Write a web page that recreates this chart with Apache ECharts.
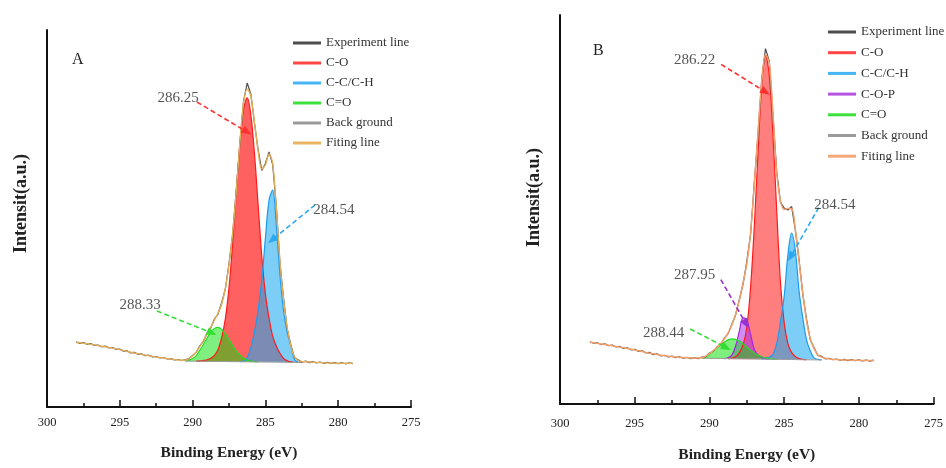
<!DOCTYPE html>
<html><head><meta charset="utf-8">
<script src="https://cdn.jsdelivr.net/npm/echarts@6/dist/echarts.min.js"></script>
<style>html,body{margin:0;padding:0;background:#fff}#c{width:946px;height:468px}</style>
</head><body><div id="c"></div>
<script>
// ---------- DATA ----------
const energyFull = [298,297.75,297.5,297.25,297,296.75,296.5,296.25,296,295.75,295.5,295.25,295,294.75,294.5,294.25,294,293.75,293.5,293.25,293,292.75,292.5,292.25,292,291.75,291.5,291.25,291,290.75,
 290.5,290.25,290,289.75,289.5,289.25,289,288.75,288.5,288.25,288,287.75,287.5,287.25,287,286.75,286.5,286.25,286,285.75,285.5,285.25,285,284.75,284.5,284.25,284,283.75,283.5,283.25,283,282.75,282.5,
 282.25,282,281.75,281.5,281.25,281,280.75,280.5,280.25,280,279.75,279.5,279.25,279];
const energyComp = [290.5,290.25,290,289.75,289.5,289.25,289,288.75,288.5,288.25,288,287.75,287.5,287.25,287,286.75,286.5,286.25,286,285.75,285.5,285.25,285,284.75,284.5,284.25,284,283.75,283.5,283.25,283,282.75,282.5];
const xTicks = [300,295,290,285,280,275];

// Panel A
const expA = [65.2,63.6,64.4,62.7,63.5,61.6,62.0,60.2,60.9,59.0,59.5,57.6,58.0,55.8,56.2,54.1,54.6,52.7,53.1,51.3,51.8,50.1,50.5,49.0,49.5,48.0,48.4,47.1,47.5,46.4,
 47.4,48.2,51.6,54.6,61.2,66.0,74.3,79.2,88.0,93.2,104.5,118.0,143.5,172.5,217.5,263.5,306,324,313,283.5,257.5,236.5,243.5,255,242.5,200.5,143.5,108.5,77.5,62,49.2,47.3,44.8,
 45.9,44.4,45.4,44.0,45.0,43.7,44.7,43.5,44.4,43.3,44.3,43.2,44.2,43.4];
const fitA = [64.5,64.2,63.8,63.3,62.8,62.1,61.4,60.8,60.2,59.6,58.9,58.2,57.4,56.5,55.5,54.7,54.0,53.3,52.6,51.9,51.2,50.6,50.0,49.5,49.0,48.5,48.0,47.5,47.1,46.8,
 47.0,48.5,51.0,55.0,60.5,66.5,73.5,80,87,94,103,119,142,174,216,265,304,318,311,285,256,238,242,253,244,199,145,107,79,61,50,46.5,45.5,
 45.2,45.0,44.8,44.6,44.4,44.2,44.1,44.0,43.9,43.8,43.8,43.7,43.7,43.7];
const bgA = [46.0,46.0,45.9,45.9,45.8,45.8,45.7,45.7,45.6,45.6,45.5,45.5,45.4,45.4,45.3,45.3,45.2,45.2,45.1,45.1,45.0,45.0,44.9,44.9,44.8,44.8,44.7,44.7,44.6,44.6,44.5,44.5,44.5];
const coA  = [0,0,0,0,0.3,0.8,1.5,3,6,12,24,43,74,118,169,218,253,264,247,208,157,106,68,44,26,16,9,4,1.5,0.5,0,0,0];
const ccA  = [0,0,0,0,0,0,0,0,0,0,0,0,0,0,0,0,0.5,4,14,30,52,82,124,162,172,136,87,51,30,16,3,0.5,0];
const c2oA = [0,0.8,2.5,5.5,11,17,23.5,29.5,33,34,32,27.6,22,16,10.5,6.4,3.6,1.8,0.8,0.3,0,0,0,0,0,0,0,0,0,0,0,0,0];
const peakLabelsA = ['286.25','284.54','288.33'];

// Panel B
const expB = [63.1,61.5,62.0,60.2,60.9,59.0,59.6,57.7,58.3,56.3,56.9,54.9,55.4,53.3,53.9,51.7,52.2,50.0,50.8,48.7,49.4,47.6,48.5,46.9,47.8,46.4,47.3,46.0,47.0,46.0,
 47.5,48.0,51.6,53.4,57.7,60.4,66.8,71.3,80.8,90.2,106,121.5,144.5,171.5,223.5,273.5,329,360,347.5,292.5,235.5,204.5,198.5,196.5,200,175.5,145.5,110.5,85.5,64.8,57.0,49.2,48.3,
 45.7,46.3,44.8,45.6,44.3,45.2,44.0,44.9,43.8,44.7,43.6,44.6,43.5,44.4];
const fitB = [62.5,62,61.4,60.8,60.2,59.6,59,58.3,57.6,56.9,56.2,55.5,54.8,54,53.2,52.3,51.5,50.8,50.1,49.4,48.8,48.3,47.9,47.5,47.2,47,46.8,46.6,46.5,46.5,
 47,48.5,51,54,57,61,66,72,80,91,105,123,142,173,222,275,327,354,346,294,234,206,197,198,198,177,144,112,84,66,56,50,47.5,
 46.3,45.7,45.3,45,44.8,44.6,44.5,44.4,44.3,44.2,44.1,44.1,44,44];
const bgB = [46.4,46.35,46.3,46.25,46.2,46.1,46.05,46.0,45.95,45.9,45.85,45.8,45.7,45.65,45.6,45.55,45.5,45.45,45.4,45.3,45.25,45.2,45.15,45.1,45.05,45.0,44.9,44.85,44.8,44.75,44.7,44.65,44.6];
const coB  = [0,0,0,0,0,0,0,0,0.5,2,6,14,32,72,134,209,277,308,288,227,151,78,37,16,7,3,1,0.3,0,0,0,0,0];
const ccB  = [0,0,0,0,0,0,0,0,0,0,0,0,0,0,0,0,0,1,2,5,16,38,64,106,128,110,69,42,20,9,2,0.5,0];
const copB = [0,0,0,0,0,0,0,0.7,3.6,12.6,28,41.5,40,25,10,4,2,0.5,0,0,0,0,0,0,0,0,0,0,0,0,0,0,0];
const c2oB = [0,1.2,4,7.5,10.5,13.7,16.7,19,20,19.6,17.9,15.2,12,8.9,6.1,3.9,2.3,1.3,0.6,0.2,0,0,0,0,0,0,0,0,0,0,0,0,0];
const peakLabelsB = ['286.22','284.54','287.95','288.44'];

const legendNamesA = ['Experiment line','C-O','C-C/C-H','C=O','Back ground','Fiting line'];
const legendNamesB = ['Experiment line','C-O','C-C/C-H','C-O-P','C=O','Back ground','Fiting line'];

// ---------- STYLE / BUILD ----------
const SERIF = "'Liberation Serif','Times New Roman',serif";
const COL = {
  exp:'#4d4d4d', bg:'#9a9a9a', fitA:'#e3ae5a', fitB:'#f4a06c',
  co:'#ff1a1a', cc:'#1e9bef', c2o:'#22dd22', cop:'#a526e0'
};
const xy = (xs, ys) => xs.map((x, i) => [x, ys[i]]);
// keep only the span where the component is non-zero (plus one edge point each side)
function onBg(bg, net) {
  const out = [];
  net.forEach((v, i) => {
    const near = v > 0 || (i > 0 && net[i - 1] > 0) || (i < net.length - 1 && net[i + 1] > 0);
    if (near) out.push([energyComp[i], +(bg[i] + v).toFixed(2)]);
  });
  return out;
}

function comp(gi, name, bg, net, line, fill, op, origin) {
  return { type:'line', name, xAxisIndex:gi, yAxisIndex:gi, data:onBg(bg, net), symbol:'none', smooth:0.35,
    lineStyle:{color:line, width:1.2}, itemStyle:{color:line},
    areaStyle:{color:fill, opacity:op, origin}, z:2, silent:true };
}
function plain(gi, name, xs, ys, color, width, smooth, z) {
  return { type:'line', name, xAxisIndex:gi, yAxisIndex:gi, data:xy(xs, ys), symbol:'none', smooth,
    lineStyle:{color, width}, itemStyle:{color}, z, silent:true };
}
function labels(gi, pos, texts, arrows) {
  return { type:'scatter', name:'_lbl'+gi, xAxisIndex:gi, yAxisIndex:gi, symbolSize:1, itemStyle:{color:'rgba(0,0,0,0)'},
    data: pos.map((p, i) => [p[0], p[1], texts[i]]), z:5, silent:true,
    label:{show:true, position:'inside', formatter:p => p.value[2], fontFamily:SERIF, fontSize:15, color:'#2a2a2a'},
    markLine:{ silent:true, animation:false, label:{show:false},
      data: arrows.map(a => [
        {coord:a.from, symbol:'none', symbolSize:0, lineStyle:{color:a.color, type:[5,3], width:1.6}, itemStyle:{color:a.color}},
        {coord:a.to, symbol:'triangle', symbolSize:[8,10], itemStyle:{color:a.color}, lineStyle:{color:a.color}}]) } };
}

const series = [
  comp(0,'C-O',bgA,coA,COL.co,'#ff0000',0.62,45.2),
  comp(0,'C-C/C-H',bgA,ccA,COL.cc,'#1eaaf0',0.58,45.0),
  comp(0,'C=O',bgA,c2oA,COL.c2o,'#00e000',0.5,45.6),
  plain(0,'Back ground',energyComp,bgA,COL.bg,1,false,3),
  plain(0,'Experiment line',energyFull,expA,COL.exp,1.2,false,3),
  plain(0,'Fiting line',energyFull,fitA,COL.fitA,1.4,0.3,4),
  labels(0, [[291.0,309],[280.29,197],[293.61,102]], peakLabelsA, [
    {from:[289.70,305], to:[286.26,275], color:'#ff3030'},
    {from:[281.59,202], to:[284.55,167], color:'#2aa8f2'},
    {from:[292.45,96],  to:[288.67,74],  color:'#33dd33'}]),

  comp(1,'C-O',bgB,coB,COL.co,'#ff0000',0.5,45.4),
  comp(1,'C-C/C-H',bgB,ccB,COL.cc,'#1eaaf0',0.58,45.1),
  comp(1,'C-O-P',bgB,copB,COL.cop,'#a020f0',0.5,45.8),
  comp(1,'C=O',bgB,c2oB,COL.c2o,'#00dd00',0.5,45.9),
  plain(1,'Back ground',energyComp,bgB,COL.bg,1,false,3),
  plain(1,'Experiment line',energyFull,expB,COL.exp,1.2,false,3),
  plain(1,'Fiting line',energyFull,fitB,COL.fitB,1.5,0.3,4),
  labels(1, [[291.0,348],[281.61,202],[291.0,131],[293.06,72]], peakLabelsB, [
    {from:[289.22,344], to:[286.24,316], color:'#ff3030'},
    {from:[282.69,199], to:[284.57,149], color:'#2aa8f2'},
    {from:[289.24,126], to:[287.55,81],  color:'#9b30d0'},
    {from:[291.29,76],  to:[288.87,57],  color:'#33dd33'}])
];

const legendColor = {'Experiment line':COL.exp,'C-O':'#ff4545','C-C/C-H':'#45b5f5','C=O':'#3ee03e','C-O-P':'#b555e0','Back ground':'#9a9a9a'};
function legend(names, left, top, gap, fit) {
  return { left, top, orient:'vertical', icon:'rect', itemWidth:28, itemHeight:3, itemGap:gap, padding:0,
    selectedMode:false, textStyle:{fontFamily:SERIF, fontSize:13, color:'#333', lineHeight:14},
    data: names.map(n => ({name:n, itemStyle:{color: n === 'Fiting line' ? fit : legendColor[n]}})) };
}
function xAxis(gi, margin, nameGap) {
  return { gridIndex:gi, type:'value', min:275, max:300, interval:5, inverse:true,
    axisLine:{show:true, onZero:false, lineStyle:{color:'#111', width:2}},
    axisTick:{show:true, inside:true, length:7, lineStyle:{color:'#111', width:1.5}},
    minorTick:{show:true, splitNumber:2, length:4, lineStyle:{color:'#111', width:1.5}},
    splitLine:{show:false}, minorSplitLine:{show:false},
    axisLabel:{color:'#222', fontFamily:SERIF, fontSize:12.5, margin, formatter:v => xTicks.includes(v) ? String(v) : ''},
    name:'Binding Energy (eV)', nameLocation:'middle', nameGap,
    nameTextStyle:{fontFamily:SERIF, fontWeight:'bold', fontSize:15.5, color:'#222'} };
}
function yAxis(gi, max, pad) {
  return { gridIndex:gi, type:'value', min:0, max,
    axisLine:{show:true, onZero:false, lineStyle:{color:'#111', width:2}},
    axisTick:{show:false}, axisLabel:{show:false}, splitLine:{show:false},
    name:'Intensit(a.u.)', nameLocation:'middle', nameGap:17, nameRotate:90,
    nameTextStyle:{fontFamily:SERIF, fontWeight:'bold', fontSize:18, color:'#222', padding:[0,0,0,pad]} };
}

const chart = echarts.init(document.getElementById('c'));
chart.setOption({
  animation:false, backgroundColor:'#fff',
  title:[
    {text:'A', left:72, top:52, padding:0, textStyle:{fontFamily:SERIF, fontSize:16, fontWeight:'normal', color:'#222'}},
    {text:'B', left:593, top:43, padding:0, textStyle:{fontFamily:SERIF, fontSize:16, fontWeight:'normal', color:'#222'}}
  ],
  grid:[{left:47, right:535, top:30, bottom:61}, {left:560, right:8, top:15, bottom:59}],
  xAxis:[xAxis(0, 9, 38), xAxis(1, 13, 43)],
  yAxis:[yAxis(0, 377, 30), yAxis(1, 394, 24)],
  legend:[legend(legendNamesA, 293, 36, 6, '#e8b462'), legend(legendNamesB, 828, 25, 6.7, '#f5a878')],
  series
});
</script></body></html>
